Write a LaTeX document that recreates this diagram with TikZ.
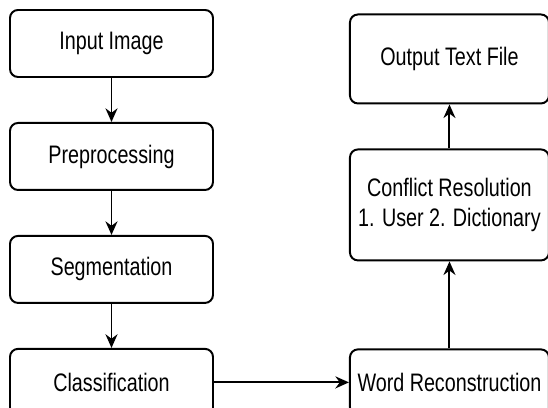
\documentclass[tikz,border=0pt]{standalone}
\usepackage{fontspec}
\setmainfont[FakeStretch=0.78]{Liberation Sans}
\usepackage{tikz}
\usetikzlibrary{positioning,arrows.meta}

\tikzset{
  box/.style={draw, line width=1.4pt, rounded corners=0.2cm, align=center,
    inner sep=0pt, font=\fontsize{18}{21.5}\selectfont},
  leftbox/.style={box, minimum width=5.075cm, minimum height=1.675cm},
  rightbox/.style={box, minimum width=4.975cm},
  flow/.style={-{Stealth[length=3.4mm,width=3mm]}, line width=1.4pt}
}

\begin{document}
\begin{tikzpicture}
	\useasboundingbox (0,0) rectangle (13.7,10.2);
	% left column
	\node[leftbox] (input) at (2.7875,9.1125) {Input Image};
	\node[leftbox, below=1.1cm of input] (prep) {Preprocessing};
	\node[leftbox, below=1.1cm of prep] (seg) {Segmentation};
	\node[leftbox, below=1.1cm of seg] (classif) {Classification};
	% right column
	\node[rightbox, minimum height=1.65cm, right=3.375cm of classif] (wordrec) {Word Reconstruction};
	\node[rightbox, minimum height=2.775cm, above=2.175cm of wordrec] (conflict) {Conflict Resolution\\1. User 2. Dictionary};
	\node[rightbox, minimum height=2.225cm, above=1.1cm of conflict] (output) {Output Text File};
	% arrows
	\draw[flow] (input) -- (prep);
	\draw[flow] (prep) -- (seg);
	\draw[flow] (seg) -- (classif);
	\draw[flow] (classif) -- (wordrec);
	\draw[flow] (wordrec) -- (conflict);
	\draw[flow] (conflict) -- (output);
\end{tikzpicture}
\end{document}
